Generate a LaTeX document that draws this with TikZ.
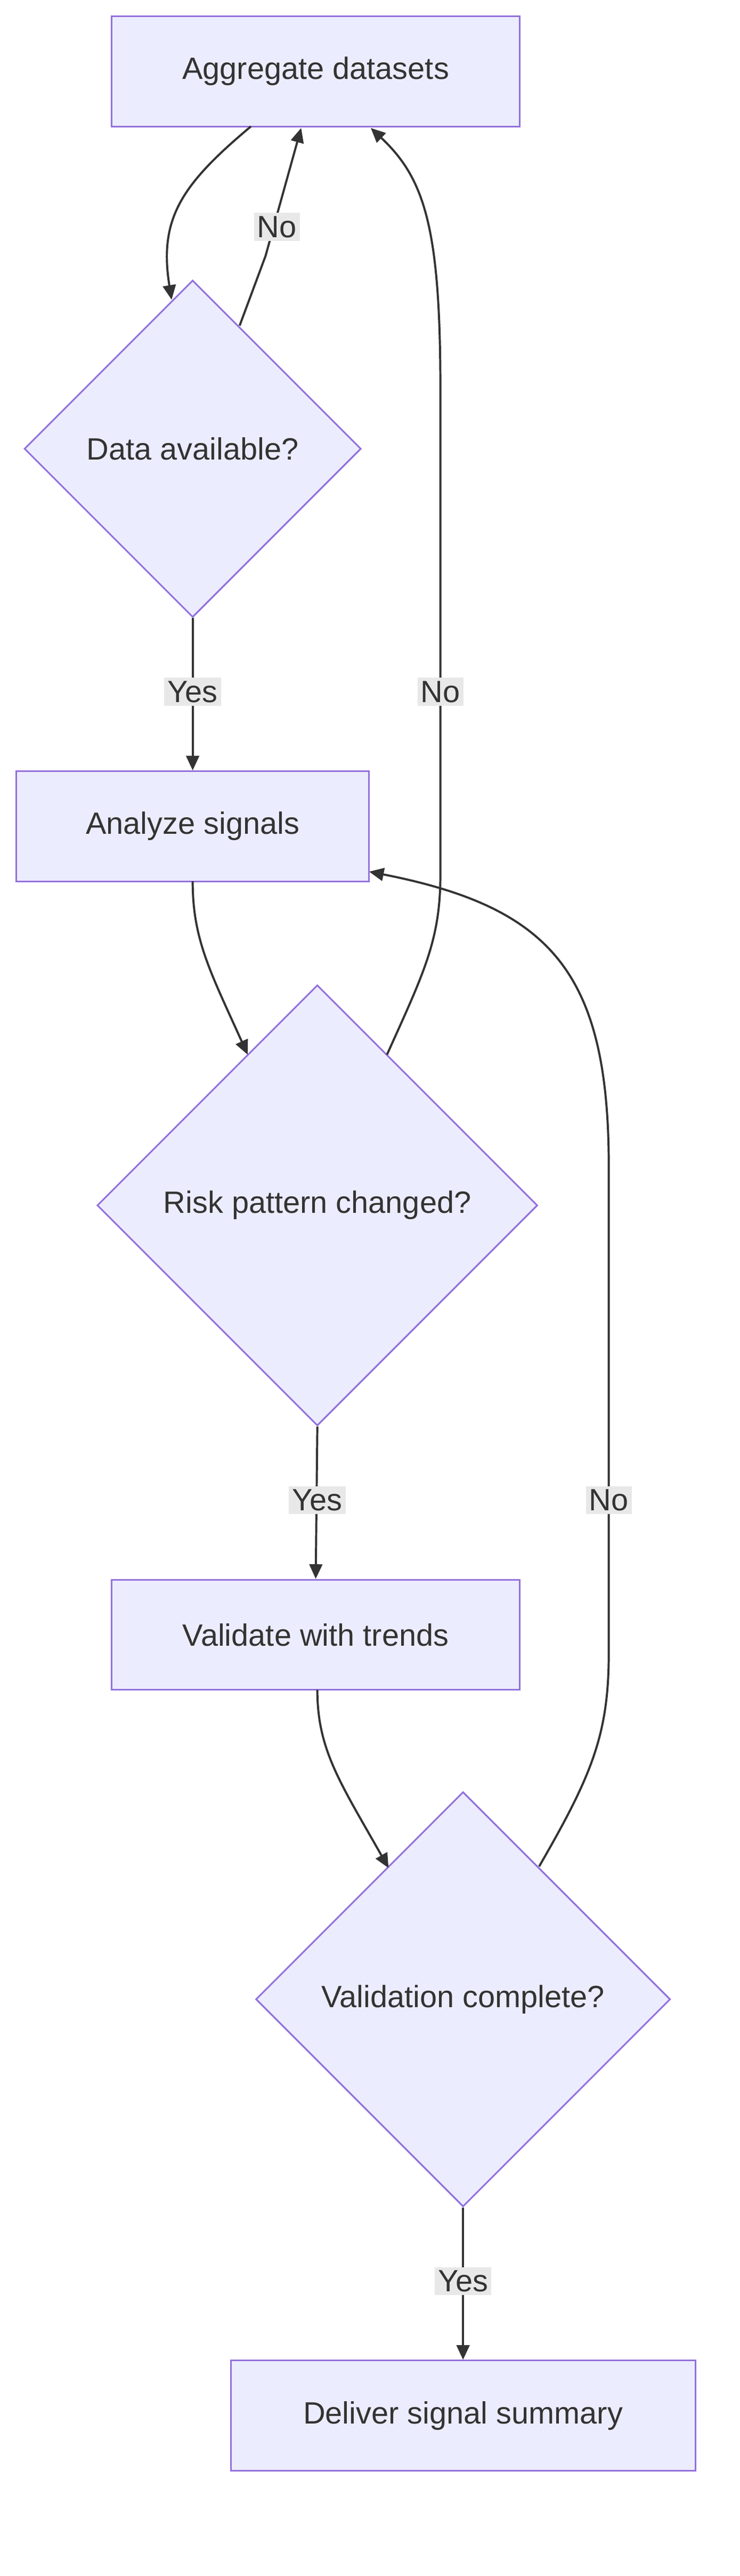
\documentclass[tikz,border=0pt]{standalone}
\usepackage{fontspec}
\setmainfont{Liberation Sans}
\usetikzlibrary{shapes.geometric,arrows.meta}
\definecolor{nfill}{HTML}{ECECFF}
\definecolor{nline}{HTML}{9370DB}
\definecolor{eline}{HTML}{333333}
\definecolor{lbg}{HTML}{E8E8E8}
\begin{document}
\begin{tikzpicture}[x=1pt,y=-1pt,
  every node/.style={font=\fontsize{19}{22}\selectfont, text=eline},
  box/.style={draw=nline, fill=nfill, line width=1pt, rectangle, inner sep=0},
  dia/.style={draw=nline, fill=nfill, line width=1pt, diamond, aspect=1, inner sep=0},
  edge/.style={draw=eline, line width=1.3pt, -{Triangle[length=9pt,width=8pt]}},
  lab/.style={fill=lbg, inner sep=2pt}]
\useasboundingbox (0,0) rectangle (457,1590);
\node[box, minimum width=252pt, minimum height=68pt] (agg) at (195,44) {Aggregate datasets};
\node[dia, minimum width=208pt, minimum height=208pt] (avail) at (119,277) {Data available?};
\node[box, minimum width=218pt, minimum height=68pt] (ana) at (119,510) {Analyze signals};
\node[dia, minimum width=272pt, minimum height=272pt] (risk) at (196,744) {Risk pattern changed?};
\node[box, minimum width=252pt, minimum height=68pt] (val) at (195,1009) {Validate with trends};
\node[dia, minimum width=256pt, minimum height=256pt] (vc) at (286,1234) {Validation complete?};
\node[box, minimum width=287pt, minimum height=68pt] (del) at (286,1491) {Deliver signal summary};

\coordinate (a1) at (155,78); \coordinate (a2) at (106,185);
\draw[edge] (a1) .. controls (112,114) and (98,135) .. (a2);
\coordinate (b1) at (148,201); \coordinate (b2) at (186,79);
\draw[edge] (b1) -- (164,158) -- (b2);
\node[lab] at (171,140) {No};
\draw[edge] (avail.south) -- (ana.north);
\node[lab] at (119,427) {Yes};
\coordinate (c1) at (119,544); \coordinate (c2) at (153,651);
\draw[edge] (c1) .. controls (119,580) and (130,600) .. (c2);
\coordinate (d1) at (239,651); \coordinate (d2) at (229,79);
\draw[edge] (d1) .. controls (262,600) and (272,580) .. (272,540) -- (272,240) .. controls (272,140) and (262,110) .. (d2);
\node[lab] at (272,427) {No};
\draw[edge] (risk.south) -- (val.north);
\node[lab] at (196,926) {Yes};
\coordinate (e1) at (196,1043); \coordinate (e2) at (240,1153);
\draw[edge] (e1) .. controls (196,1080) and (210,1100) .. (e2);
\coordinate (f1) at (333,1152); \coordinate (f2) at (228,538);
\draw[edge] (f1) .. controls (366,1095) and (376,1070) .. (376,1020) -- (376,720) .. controls (376,600) and (340,560) .. (f2);
\node[lab] at (376,926) {No};
\draw[edge] (vc.south) -- (del.north);
\node[lab] at (286,1408) {Yes};
\end{tikzpicture}
\end{document}
